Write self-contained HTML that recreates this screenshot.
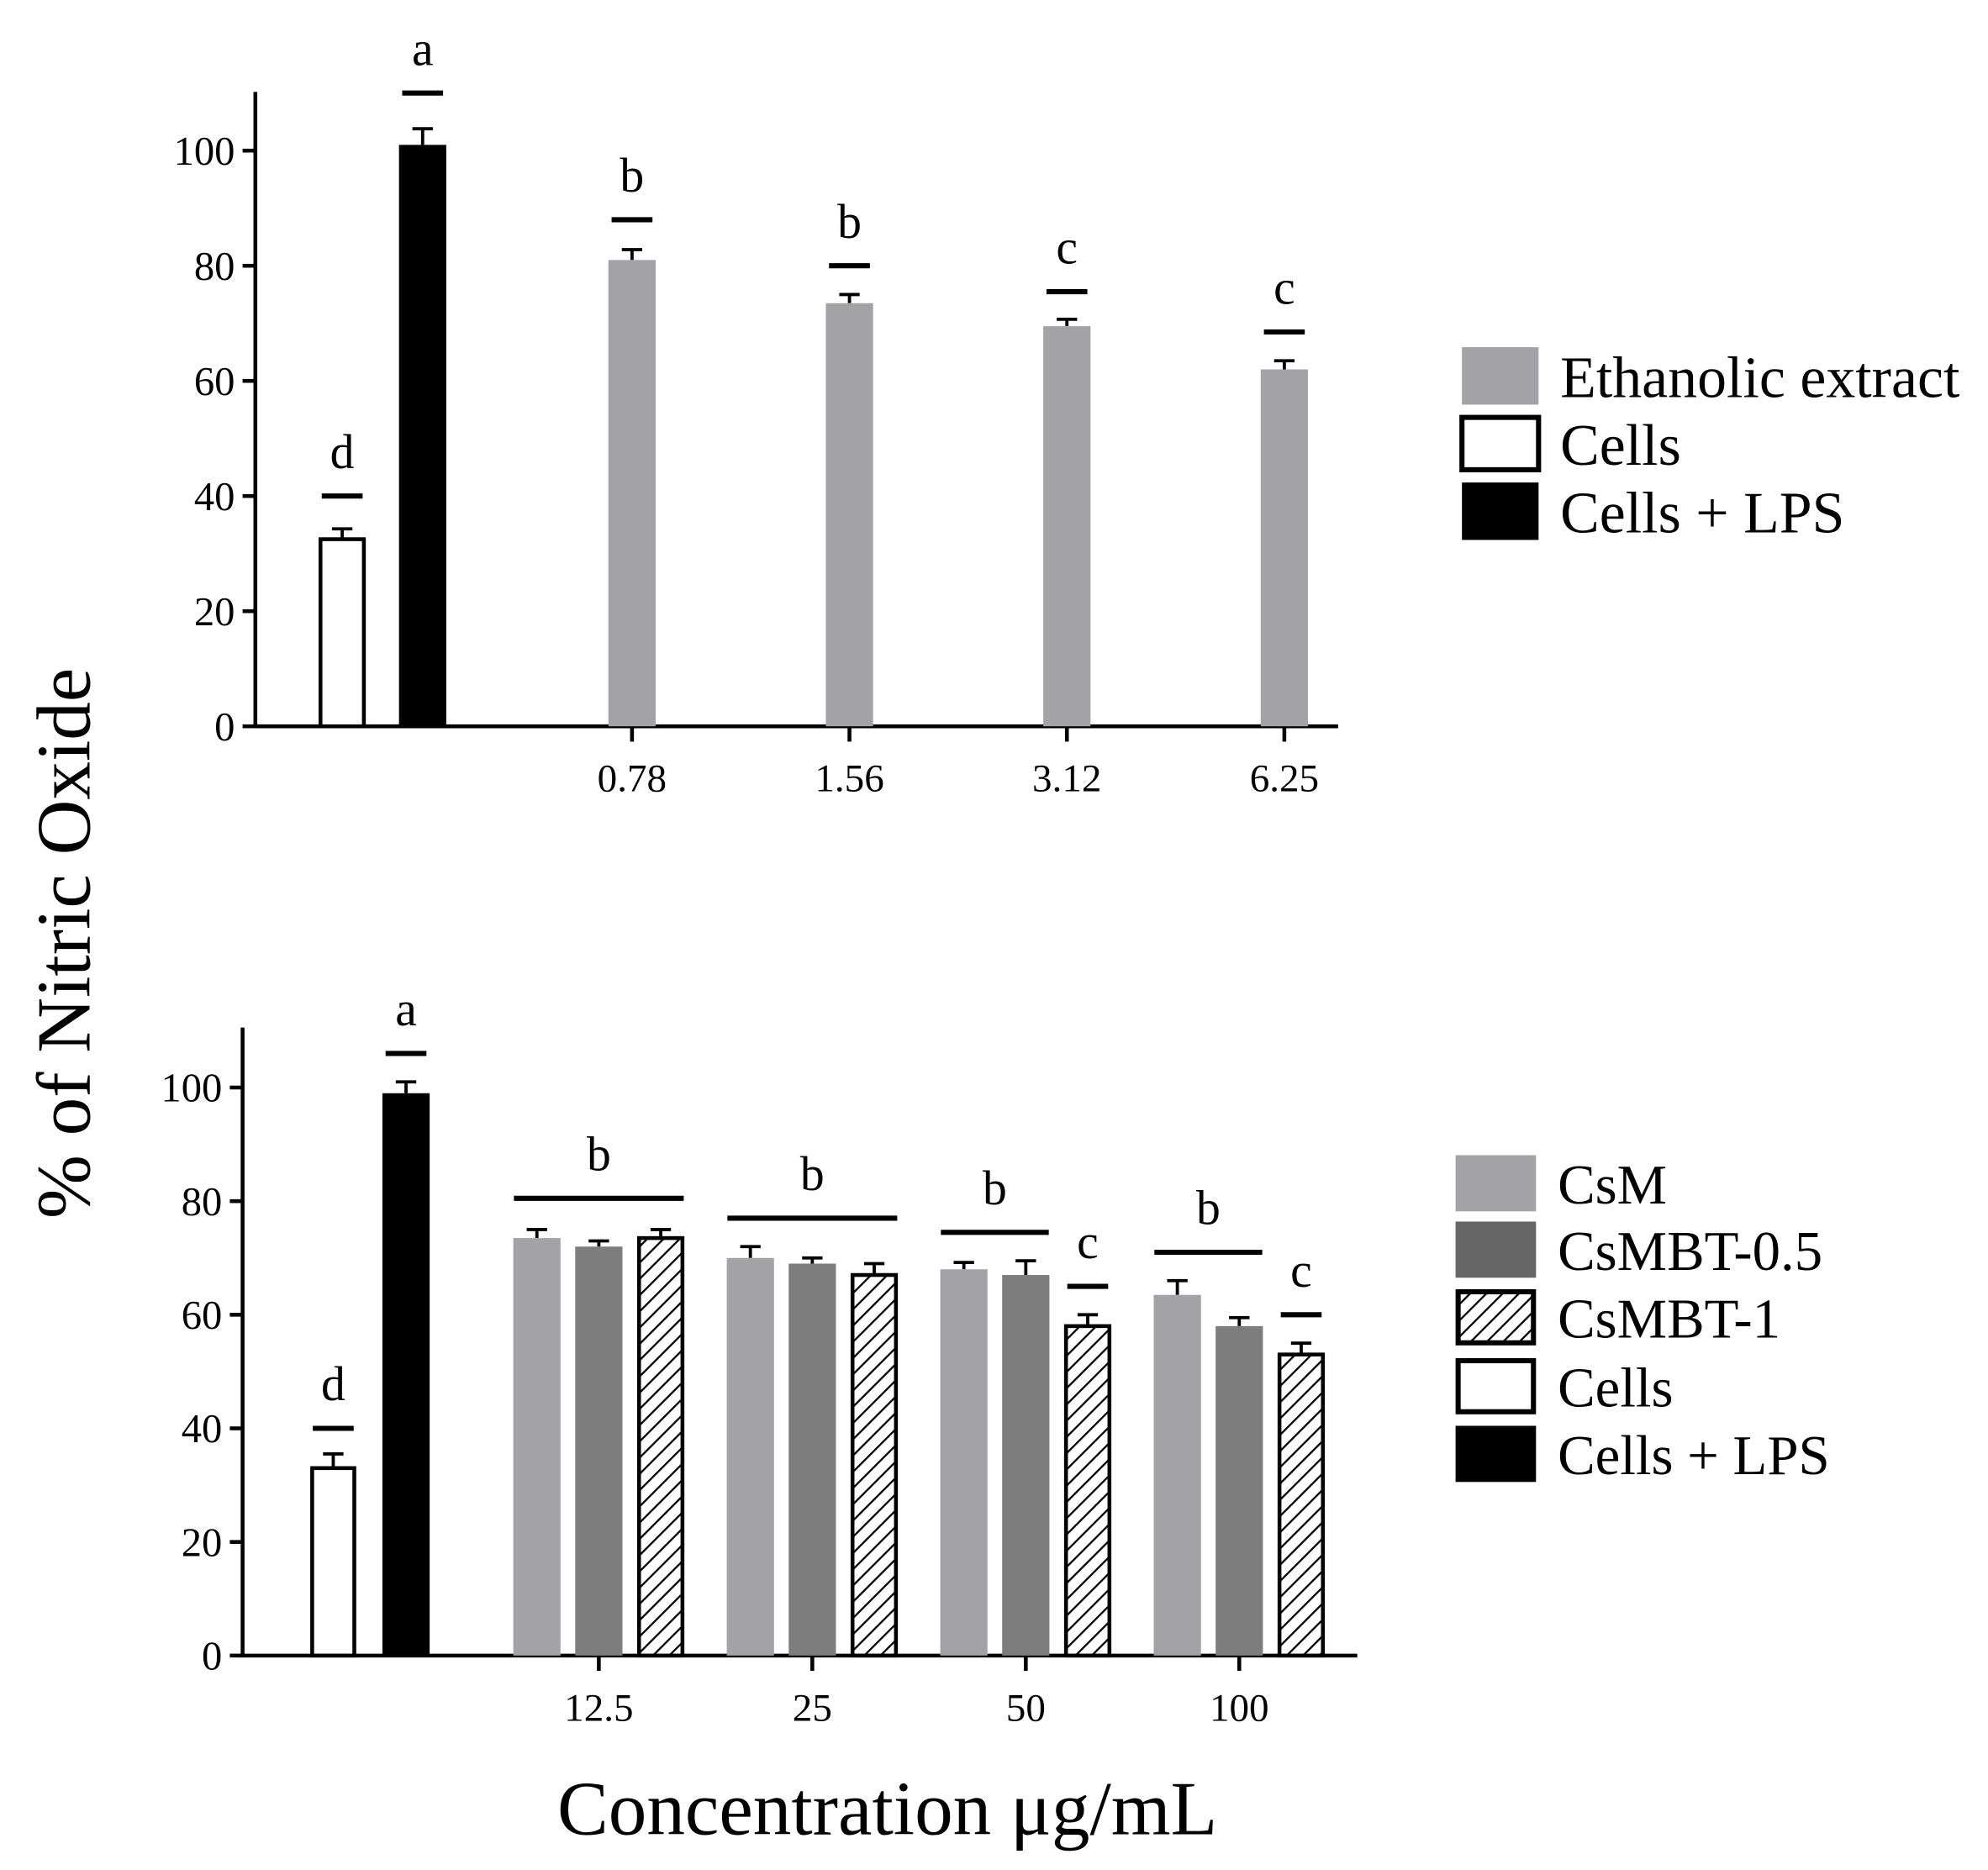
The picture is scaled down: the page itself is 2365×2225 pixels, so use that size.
<!DOCTYPE html>
<html><head><meta charset="utf-8"><style>
html,body{margin:0;padding:0;background:#fff;}
svg{display:block;font-family:"Liberation Serif",serif;}
</style></head><body>
<svg id="fig" width="2365" height="2225" viewBox="0 0 1557 1465" preserveAspectRatio="none" xmlns="http://www.w3.org/2000/svg">
<defs>
<pattern id="hatch" patternUnits="userSpaceOnUse" width="9" height="9" patternTransform="rotate(45)">
<rect width="9" height="9" fill="#fff"/><line x1="0" y1="0" x2="0" y2="9" stroke="#000" stroke-width="3"/>
</pattern>
</defs>
<text transform="translate(70,739) rotate(-90)" text-anchor="middle" font-size="60">% of Nitric Oxide</text>
<text x="695" y="1437" text-anchor="middle" font-size="60">Concentration μg/mL</text>
<g id="top"></g>
<g id="bot"></g>
</svg>
<script>
// ---- top chart data ----
const topCats = ["0.78","1.56","3.12","6.25"];
const topExtract = [81,73.5,69.5,62];
const topExtractErr = [1.8,1.5,1.2,1.5];
const topCells = 32.5, topCellsErr = 1.8;
const topLPS = 101, topLPSErr = 2.8;
const topLetters = ["b","b","c","c"];
const topLetterLevels = [88,80,75.5,68.5];
const topCtrlLetters = ["d","a"];
const topCtrlLevels = [40,110];
const yTicks = [0,20,40,60,80,100];
// ---- bottom chart data ----
const botCats = ["12.5","25","50","100"];
const botCsM = [73.5,70,68,63.5];
const botCsMErr = [1.5,2,1.2,2.5];
const botBT05 = [72,69,67,58];
const botBT05Err = [1,1,2.5,1.5];
const botBT1 = [73.5,67,58,53];
const botBT1Err = [1.5,2,2,2];
const botCells = 33, botCellsErr = 2.5;
const botLPS = 99, botLPSErr = 2;
const botGroupLevels = [80.5,77,74.5,71];
const botGroupSpan = [3,3,2,2];
const botCLevels = [null,null,65,60];
const botCtrlLevels = [40,106];

const NS="http://www.w3.org/2000/svg";
function el(parent,tag,attrs,name,inter){
  const e=document.createElementNS(NS,tag);
  for(const k in attrs) e.setAttribute(k,attrs[k]);
  
  
  parent.appendChild(e); return e;
}
function txt(parent,x,y,s,size,anchor,name){
  const t=el(parent,'text',{x:x,y:y,'font-size':size,'text-anchor':anchor||'middle'},name,false);
  t.textContent=s; return t;
}
function axes(g,x0,x1,yTop,y0,yScale,tickX,cats,pre){
  el(g,'line',{x1:x0,y1:yTop,x2:x0,y2:y0+1.5,stroke:'#000','stroke-width':3},pre+'y-axis',false);
  el(g,'line',{x1:x0,y1:y0,x2:x1,y2:y0,stroke:'#000','stroke-width':3},pre+'x-axis',false);
  yTicks.forEach(v=>{
    const y=yScale(v);
    el(g,'line',{x1:x0-10,y1:y,x2:x0,y2:y,stroke:'#000','stroke-width':3},pre+'y-tick',false);
    txt(g,x0-16,y+11,String(v),32,'end',pre+'y-tick-label');
  });
  cats.forEach((c,i)=>{
    const x=tickX(i);
    el(g,'line',{x1:x,y1:y0,x2:x,y2:y0+12,stroke:'#000','stroke-width':3},pre+'x-tick',false);
    txt(g,x,y0+51,c,31,'middle',pre+'x-tick-label');
  });
}
function bar(g,cx,w,v,err,yScale,y0,fill,stroke,name){
  const y=yScale(v);
  const sw=stroke?3:0;
  el(g,'line',{x1:cx,y1:yScale(v+err),x2:cx,y2:y,stroke:'#000','stroke-width':2.5},name+'-error',false);
  el(g,'line',{x1:cx-8,y1:yScale(v+err),x2:cx+8,y2:yScale(v+err),stroke:'#000','stroke-width':2.5},name+'-error-cap',false);
  el(g,'rect',{x:cx-w/2+sw/2,y:y,width:w-sw,height:y0-y,fill:fill,stroke:stroke||'none','stroke-width':sw},name,false);
}
function dash(g,cx,v,yScale,letter,name){
  const y=yScale(v);
  el(g,'line',{x1:cx-16,y1:y,x2:cx+16,y2:y,stroke:'#000','stroke-width':4},name+'-dash',false);
  txt(g,cx,y-22,letter,38,'middle',name+'-letter');
}
// ---- top chart ----
(function(){
  const g=document.getElementById('top');
  const y0=569, yS=v=>y0-v*4.51;
  const tickX=i=>495+i*170.3;
  axes(g,200,1048,72,y0,yS,tickX,topCats,'top-');
  bar(g,268,37,topCells,topCellsErr,yS,y0,'#fff','#000','top-bar-cells');
  bar(g,331,37,topLPS,topLPSErr,yS,y0,'#000',null,'top-bar-lps');
  dash(g,268,topCtrlLevels[0],yS,topCtrlLetters[0],'top-cells');
  dash(g,331,topCtrlLevels[1],yS,topCtrlLetters[1],'top-lps');
  topExtract.forEach((v,i)=>{
    bar(g,tickX(i),37,v,topExtractErr[i],yS,y0,'#a3a3a7',null,'top-bar-extract-'+topCats[i]);
    dash(g,tickX(i),topLetterLevels[i],yS,topLetters[i],'top-extract-'+topCats[i]);
  });
  const L=[['Ethanolic extract','#a3a3a7',null],['Cells','#fff','#000'],['Cells + LPS','#000',null]];
  const ys=[272,325,378];
  L.forEach((l,i)=>{
    el(g,'rect',{x:1145,y:ys[i]+(l[2]?2:0),width:60,height:l[2]?41:45,fill:l[1],stroke:l[2]||'none','stroke-width':l[2]?4:0},'top-legend-swatch',false);
    txt(g,1222,ys[i]+39,l[0],46,'start','top-legend-label');
  });
})();
// ---- bottom chart ----
(function(){
  const g=document.getElementById('bot');
  const y0=1297, yS=v=>y0-v*4.45;
  const tickX=i=>469+i*167.2;
  axes(g,190,1063,805,y0,yS,tickX,botCats,'bot-');
  bar(g,261,36,botCells,botCellsErr,yS,y0,'#fff','#000','bot-bar-cells');
  bar(g,318,37,botLPS,botLPSErr,yS,y0,'#000',null,'bot-bar-lps');
  dash(g,261,botCtrlLevels[0],yS,'d','bot-cells');
  dash(g,318,botCtrlLevels[1],yS,'a','bot-lps');
  const off=48.5;
  botCats.forEach((c,i)=>{
    const cx=tickX(i);
    bar(g,cx-off,37,botCsM[i],botCsMErr[i],yS,y0,'#a3a3a7',null,'bot-bar-csm-'+c);
    bar(g,cx,37,botBT05[i],botBT05Err[i],yS,y0,'#7d7d7d',null,'bot-bar-csmbt05-'+c);
    bar(g,cx+off,37,botBT1[i],botBT1Err[i],yS,y0,'url(#hatch)','#000','bot-bar-csmbt1-'+c);
    const span=botGroupSpan[i];
    const xl=cx-off-18, xr=(span===3?cx+off+18:cx+18);
    const y=yS(botGroupLevels[i]);
    el(g,'line',{x1:xl,y1:y,x2:xr,y2:y,stroke:'#000','stroke-width':4},'bot-group-line-'+c,false);
    txt(g,(xl+xr)/2,y-22,'b',38,'middle','bot-group-letter-'+c);
    if(botCLevels[i]!==null) dash(g,cx+off,botCLevels[i],yS,'c','bot-csmbt1-'+c);
  });
  const L=[['CsM','#a3a3a7',null],['CsMBT-0.5','#666',null],['CsMBT-1','url(#hatch)','#000'],['Cells','#fff','#000'],['Cells + LPS','#000',null]];
  const ys=[905,957,1010,1064,1117];
  L.forEach((l,i)=>{
    el(g,'rect',{x:l[2]?1142:1140,y:ys[i]+(l[2]?2:0),width:l[2]?59:63,height:l[2]?40:44,fill:l[1],stroke:l[2]||'none','stroke-width':l[2]?4:0},'bot-legend-swatch',false);
    txt(g,1220,ys[i]+38,l[0],44,'start','bot-legend-label');
  });
})();
</script>
</body></html>
